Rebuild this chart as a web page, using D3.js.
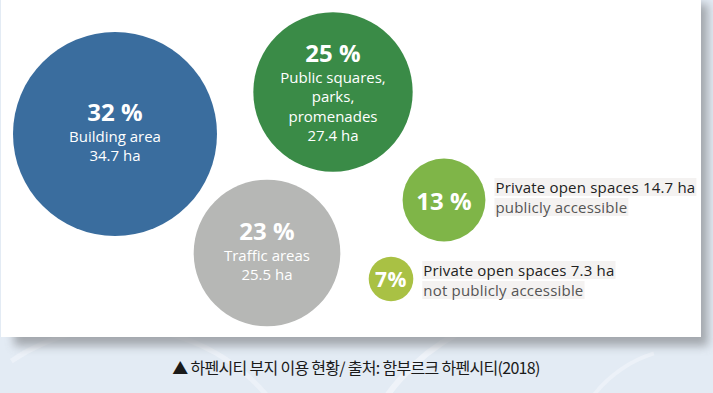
<!DOCTYPE html>
<html>
<head>
<meta charset="utf-8">
<script src="https://cdn.jsdelivr.net/npm/d3@7"></script>
<style>
  body { margin: 0; background: #e3ebf4; }
  svg { display: block; }
</style>
</head>
<body>
<svg id="svg" width="713" height="393"></svg>
<script>
(function() {

    const svg = d3.select('#svg')
    const width = 713, height = 393

    // land use shares (percent) and area (ha)
    const categories = ['Building area', 'Public squares, parks, promenades', 'Traffic areas',
        'Private open spaces publicly accessible', 'Private open spaces not publicly accessible']
    const shares = [32, 25, 23, 13, 7]
    const areas = ['34.7', '27.4', '25.5', '14.7', '7.3']
    const pctLabels = ['32 %', '25 %', '23 %', '13 %', '7%']
    const innerLines = [
        ['Building area', '34.7 ha'],
        ['Public squares,', 'parks,', 'promenades', '27.4 ha'],
        ['Traffic areas', '25.5 ha'],
        [],
        []
    ]
    const sideLines = [
        [], [], [],
        ['Private open spaces 14.7 ha', 'publicly accessible'],
        ['Private open spaces 7.3 ha', 'not publicly accessible']
    ]
    const colors = ['#3a6d9e', '#3a8b47', '#b6b7b5', '#7fb548', '#a9c144']
    const caption = '▲ 하펜시티 부지 이용 현황/ 출처: 함부르크 하펜시티(2018)'

    // layout: bubble centres and side label offsets
    const centres = [[115, 134], [333, 92], [267, 253], [444, 200], [391, 279]]
    const sideOffset = [0, 0, 0, -13, -9]

    const font = '"Open Sans", Lato, sans-serif'

    // radius is linear in the share
    const r = d3.scaleLinear().domain([0, 32]).range([0, 102])

    // background decorations
    const defs = svg.append('defs')
    const blur = defs.append('filter').attr('id', 'shadow')
        .attr('x', '-5%').attr('y', '-5%').attr('width', '115%').attr('height', '120%')
    blur.append('feGaussianBlur').attr('stdDeviation', 5)

    const arc = d3.arc()
    svg.append('path')
        .attr('transform', 'translate(560,520)')
        .attr('d', arc({innerRadius: 210, outerRadius: 216, startAngle: -1.2, endAngle: 0.2}))
        .attr('fill', '#f1f5fa').attr('opacity', 0.8)
    svg.append('path')
        .attr('transform', 'translate(120,520)')
        .attr('d', arc({innerRadius: 190, outerRadius: 195, startAngle: -0.6, endAngle: 0.9}))
        .attr('fill', '#f1f5fa').attr('opacity', 0.6)
    svg.append('path')
        .attr('transform', 'translate(690,470)')
        .attr('d', arc({innerRadius: 120, outerRadius: 124, startAngle: -1.5, endAngle: -0.3}))
        .attr('fill', '#f1f5fa').attr('opacity', 0.6)

    // panel shadow + panel
    svg.append('rect')
        .attr('x', 14).attr('y', 4).attr('width', 694).attr('height', 342)
        .attr('fill', '#8e9296').attr('opacity', 0.75)
        .attr('filter', 'url(#shadow)')
    svg.append('rect')
        .attr('x', 1).attr('y', 0).attr('width', 700).attr('height', 337)
        .attr('fill', '#ffffff')

    const data = shares.map((s, i) => ({
        share: s, name: categories[i], area: areas[i], pct: pctLabels[i],
        inner: innerLines[i], side: sideLines[i], color: colors[i],
        cx: centres[i][0], cy: centres[i][1], off: sideOffset[i]
    }))

    const g = svg.selectAll('.bubble')
        .data(data)
        .enter()
        .append('g')
            .attr('class', 'bubble')
            .attr('transform', d => 'translate(' + d.cx + ',' + d.cy + ')')

    g.append('circle')
        .attr('r', d => r(d.share))
        .attr('fill', d => d.color)

    const topOf = d => d.inner.length ? -6 - 8.5 * d.inner.length : 0

    // percentage labels
    g.append('text')
        .attr('text-anchor', 'middle')
        .attr('y', topOf)
        .attr('dominant-baseline', 'central')
        .attr('fill', '#fff')
        .style('font-family', font)
        .style('font-weight', 700)
        .style('font-size', d => d.share > 10 ? '24px' : '21px')
        .style('letter-spacing', d => d.share > 10 ? '0px' : '0.5px')
        .text(d => d.pct)

    // lines inside the large bubbles
    g.each(function(d) {
        const top = topOf(d)
        d3.select(this).selectAll('.inner')
            .data(d.inner)
            .enter()
            .append('text')
                .attr('class', 'inner')
                .attr('text-anchor', 'middle')
                .attr('dominant-baseline', 'central')
                .attr('y', (t, j) => top + 25 + j * 19.3)
                .attr('fill', '#fff')
                .style('font-family', font)
                .style('font-size', '15px')
                .text(t => t)
    })

    // side labels for the small bubbles, with a faint box behind each line
    g.each(function(d) {
        if (!d.side.length) return
        const x0 = r(d.share) + 10
        const sel = d3.select(this)
        const boxes = sel.append('g')
        const texts = sel.selectAll('.side')
            .data(d.side)
            .enter()
            .append('text')
                .attr('class', 'side')
                .attr('x', x0)
                .attr('y', (t, j) => d.off + j * 20)
                .attr('dominant-baseline', 'central')
                .attr('fill', (t, j) => j == 0 ? '#222222' : '#555555')
                .style('font-family', font)
                .style('font-size', '15px')
                .style('letter-spacing', '0.2px')
                .text(t => t)
        texts.each(function() {
            const b = this.getBBox()
            boxes.append('rect')
                .attr('x', b.x - 1).attr('y', b.y + 1)
                .attr('width', b.width + 2).attr('height', b.height - 2)
                .attr('fill', '#f4f2f1')
        })
    })

    // caption
    svg.append('text')
        .attr('x', 356)
        .attr('y', 367)
        .attr('text-anchor', 'middle')
        .attr('dominant-baseline', 'central')
        .attr('fill', '#1a1a1a')
        .style('font-family', '"Noto Sans CJK KR", sans-serif')
        .style('font-size', '16px')
        .style('letter-spacing', '-0.7px')
        .text(caption)

})();
</script>
</body>
</html>
